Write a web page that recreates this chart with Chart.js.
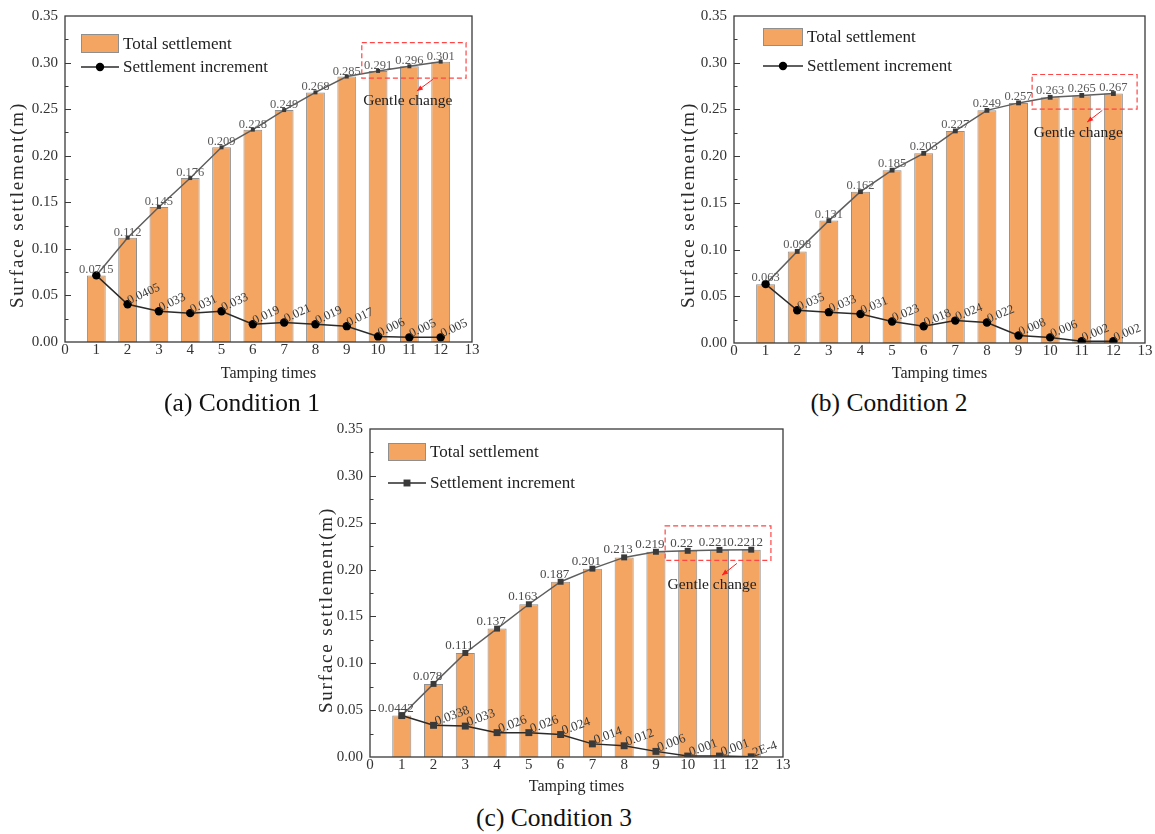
<!DOCTYPE html>
<html>
<head>
<meta charset="utf-8">
<script src="https://cdn.jsdelivr.net/npm/chart.js@4.4.1/dist/chart.umd.min.js"></script>
<style>
  html, body { margin: 0; padding: 0; background: #fff; }
  body { width: 1155px; height: 834px; position: relative; overflow: hidden;
         font-family: 'Liberation Serif', 'Times New Roman', serif; }
  canvas { position: absolute; }
  .cap { position: absolute; font-size: 25.5px; line-height: 26px; color: #111;
         white-space: nowrap; transform: translateX(-50%); }
</style>
</head>
<body>
<canvas id="chartA" width="480" height="385" style="left:0px;top:0px"></canvas>
<canvas id="chartB" width="485" height="385" style="left:670px;top:0px"></canvas>
<canvas id="chartC" width="490" height="385" style="left:305px;top:413px"></canvas>
<div class="cap" style="left:242px;top:390px">(a) Condition 1</div>
<div class="cap" style="left:889px;top:390px">(b) Condition 2</div>
<div class="cap" style="left:554px;top:805px">(c) Condition 3</div>

<script>
// Tamping passes (x axis)
const tampingTimes = [1, 2, 3, 4, 5, 6, 7, 8, 9, 10, 11, 12];

// Condition 1
const totalSettlement1 = [0.0715, 0.112, 0.145, 0.176, 0.209, 0.228, 0.249, 0.268, 0.285, 0.291, 0.296, 0.301];
const settlementIncrement1 = [0.0715, 0.0405, 0.033, 0.031, 0.033, 0.019, 0.021, 0.019, 0.017, 0.006, 0.005, 0.005];

// Condition 2
const totalSettlement2 = [0.063, 0.098, 0.131, 0.162, 0.185, 0.203, 0.227, 0.249, 0.257, 0.263, 0.265, 0.267];
const settlementIncrement2 = [0.063, 0.035, 0.033, 0.031, 0.023, 0.018, 0.024, 0.022, 0.008, 0.006, 0.002, 0.002];

// Condition 3
const totalSettlement3 = [0.0442, 0.078, 0.111, 0.137, 0.163, 0.187, 0.201, 0.213, 0.219, 0.22, 0.221, 0.2212];
const settlementIncrement3 = [0.0442, 0.0338, 0.033, 0.026, 0.026, 0.024, 0.014, 0.012, 0.006, 0.001, 0.001, 0.0002];

// Axis ranges
const xAxisRange = [0, 13];
const yAxisRange = [0, 0.35];
const yMajorStep = 0.05;

const SERIF = "'Liberation Serif', 'Times New Roman', serif";
const BAR_FILL = '#F4A562';
const BAR_EDGE = '#8f8f8f';

// Origin-style numeric label text ("2E-4" for very small values)
function fmt(v) {
  return v < 0.001 ? v.toExponential().toUpperCase() : String(v);
}

// Box frame with inward ticks on the left axis
const framePlugin = {
  id: 'frame',
  afterDatasetsDraw(chart) {
    const { ctx, chartArea: a, scales: { y } } = chart;
    ctx.save();
    ctx.strokeStyle = '#3a3a3a';
    ctx.lineWidth = 1.3;
    ctx.strokeRect(a.left, a.top, a.right - a.left, a.bottom - a.top);
    ctx.lineWidth = 1;
    const half = yMajorStep / 2;
    const n = Math.round((yAxisRange[1] - yAxisRange[0]) / half);
    for (let i = 1; i < n; i++) {
      const py = Math.round(y.getPixelForValue(yAxisRange[0] + i * half)) + 0.5;
      const len = i % 2 === 0 ? 6 : 3.5;
      ctx.beginPath();
      ctx.moveTo(a.left, py);
      ctx.lineTo(a.left + len, py);
      ctx.stroke();
    }
    ctx.restore();
  }
};

// Value labels: totals above their markers, increments tilted to the right
const valueLabelPlugin = {
  id: 'valueLabels',
  afterDatasetsDraw(chart, args, o) {
    const ctx = chart.ctx;
    const totMeta = chart.getDatasetMeta(1);
    const incMeta = chart.getDatasetMeta(2);
    const totData = chart.data.datasets[1].data;
    const incData = chart.data.datasets[2].data;
    ctx.save();
    ctx.font = `${o.size}px ${SERIF}`;
    ctx.textBaseline = 'alphabetic';
    ctx.fillStyle = o.totalColor;
    ctx.textAlign = 'center';
    totMeta.data.forEach((pt, i) => {
      ctx.fillText(fmt(totData[i].y), pt.x + o.totalDx, pt.y - o.totalDy);
    });
    ctx.fillStyle = o.incColor;
    ctx.textAlign = 'left';
    incMeta.data.forEach((pt, i) => {
      if (i === 0) return; // first increment equals the first total, labelled once
      ctx.save();
      ctx.translate(pt.x + o.incDx, pt.y + o.incDy);
      ctx.rotate(-o.angle * Math.PI / 180);
      ctx.fillText(fmt(incData[i].y), 0, 0);
      ctx.restore();
    });
    ctx.restore();
  }
};

// Legend drawn inside the plot area, top-left
const insideLegendPlugin = {
  id: 'insideLegend',
  afterDraw(chart, args, o) {
    const { ctx, chartArea: a } = chart;
    const bar = chart.data.datasets[0];
    const inc = chart.data.datasets[2];
    const x0 = a.left + o.dx, y0 = a.top + o.dy;
    ctx.save();
    // bar swatch
    ctx.fillStyle = bar.backgroundColor;
    ctx.strokeStyle = bar.borderColor;
    ctx.lineWidth = 1;
    ctx.fillRect(x0, y0, o.w, o.h);
    ctx.strokeRect(x0 + 0.5, y0 + 0.5, o.w - 1, o.h - 1);
    // line + marker swatch
    const ly = y0 + o.row2;
    ctx.strokeStyle = inc.borderColor;
    ctx.lineWidth = 1.5;
    ctx.beginPath();
    ctx.moveTo(x0, ly);
    ctx.lineTo(x0 + o.w, ly);
    ctx.stroke();
    ctx.fillStyle = inc.pointBackgroundColor;
    const cx = x0 + o.w / 2;
    if (inc.pointStyle === 'rect') {
      const s = inc.pointRadius * Math.SQRT1_2;
      ctx.fillRect(cx - s, ly - s, 2 * s, 2 * s);
    } else {
      ctx.beginPath();
      ctx.arc(cx, ly, inc.pointRadius, 0, Math.PI * 2);
      ctx.fill();
    }
    // texts
    ctx.fillStyle = '#1e1e1e';
    ctx.font = `17px ${SERIF}`;
    ctx.textAlign = 'left';
    ctx.textBaseline = 'middle';
    ctx.fillText(bar.label, x0 + o.w + 4, y0 + o.h / 2 + 1);
    ctx.fillText(inc.label, x0 + o.w + 4, ly + 1);
    ctx.restore();
  }
};

// "Gentle change" callout: dashed box, arrow and note (placed in data space)
const calloutPlugin = {
  id: 'callout',
  afterDraw(chart, args, o) {
    const { ctx, scales: { x, y } } = chart;
    const X = v => x.getPixelForValue(v), Y = v => y.getPixelForValue(v);
    ctx.save();
    ctx.strokeStyle = '#ff4545';
    ctx.lineWidth = 1.2;
    ctx.setLineDash([5, 3]);
    const bx = X(o.box[0]), by = Y(o.box[3]);
    ctx.strokeRect(bx, by, X(o.box[2]) - bx, Y(o.box[1]) - by);
    ctx.setLineDash([]);
    const x1 = X(o.arrow[0]), y1 = Y(o.arrow[1]), x2 = X(o.arrow[2]), y2 = Y(o.arrow[3]);
    ctx.strokeStyle = '#ff2020';
    ctx.fillStyle = '#ff2020';
    ctx.lineWidth = 1;
    ctx.beginPath();
    ctx.moveTo(x1, y1);
    ctx.lineTo(x2, y2);
    ctx.stroke();
    const ang = Math.atan2(y2 - y1, x2 - x1);
    ctx.beginPath();
    ctx.moveTo(x2, y2);
    ctx.lineTo(x2 - 6 * Math.cos(ang) + 2.5 * Math.sin(ang), y2 - 6 * Math.sin(ang) - 2.5 * Math.cos(ang));
    ctx.lineTo(x2 - 6 * Math.cos(ang) - 2.5 * Math.sin(ang), y2 - 6 * Math.sin(ang) + 2.5 * Math.cos(ang));
    ctx.closePath();
    ctx.fill();
    ctx.fillStyle = '#222';
    ctx.font = `15.5px ${SERIF}`;
    ctx.textAlign = 'center';
    ctx.textBaseline = 'middle';
    ctx.fillText(o.text, X(o.textAt[0]), Y(o.textAt[1]));
    ctx.restore();
  }
};

// Rotated y-axis title
const yTitlePlugin = {
  id: 'yTitle',
  afterDraw(chart, args, o) {
    const ctx = chart.ctx;
    ctx.save();
    ctx.translate(o.x, o.y);
    ctx.rotate(-Math.PI / 2);
    ctx.font = `19px ${SERIF}`;
    ctx.fillStyle = '#2a2a2a';
    ctx.textAlign = 'center';
    ctx.textBaseline = 'middle';
    if ('letterSpacing' in ctx) ctx.letterSpacing = o.spacing + 'px';
    ctx.fillText(o.text, 0, 0);
    ctx.restore();
  }
};

function makeChart(id, cfg) {
  const pts = arr => tampingTimes.map((t, i) => ({ x: t, y: arr[i] }));
  return new Chart(document.getElementById(id), {
    type: 'bar',
    data: {
      datasets: [
        {
          type: 'bar', label: 'Total settlement', data: pts(cfg.total),
          backgroundColor: BAR_FILL, borderColor: BAR_EDGE, borderWidth: 1,
          barPercentage: 0.6, categoryPercentage: 1.0, order: 3
        },
        {
          type: 'line', label: 'Total settlement line', data: pts(cfg.total),
          borderColor: '#5e5e5e', borderWidth: 1.5, tension: 0,
          pointStyle: 'rect', pointRadius: cfg.totalMarker, pointBorderWidth: 0,
          pointBackgroundColor: '#3a3a3a', order: 2
        },
        {
          type: 'line', label: 'Settlement increment', data: pts(cfg.inc),
          borderColor: '#2a2a2a', borderWidth: 1.5, tension: 0,
          pointStyle: cfg.incStyle, pointRadius: cfg.incMarker, pointBorderWidth: 0,
          pointBackgroundColor: cfg.incStyle === 'rect' ? '#3a3a3a' : '#000', order: 1
        }
      ]
    },
    options: {
      responsive: false,
      animation: false,
      devicePixelRatio: 1,
      layout: { padding: { top: cfg.padTop, right: cfg.padRight, left: 0, bottom: 0 } },
      plugins: {
        legend: { display: false },
        tooltip: { enabled: false },
        valueLabels: cfg.labels,
        insideLegend: cfg.legend,
        callout: cfg.callout,
        yTitle: cfg.yTitle
      },
      scales: {
        x: {
          type: 'linear', min: xAxisRange[0], max: xAxisRange[1], offset: false,
          grid: { display: false, offset: false, drawTicks: false },
          border: { display: false },
          ticks: { stepSize: 1, padding: -1, color: '#333', font: { size: 15, family: SERIF },
                   maxRotation: 0, autoSkip: false },
          title: { display: true, text: 'Tamping times', color: '#262626',
                   font: { size: 16, family: SERIF }, padding: { top: 0, bottom: 2 } },
          afterFit: s => { s.height = cfg.xHeight; }
        },
        y: {
          type: 'linear', min: yAxisRange[0], max: yAxisRange[1],
          grid: { display: false, drawTicks: false },
          border: { display: false },
          ticks: { stepSize: yMajorStep, padding: 7, color: '#333',
                   font: { size: 15, family: SERIF }, callback: v => v.toFixed(2) },
          afterFit: s => { s.width = cfg.yWidth; }
        }
      }
    },
    plugins: [framePlugin, valueLabelPlugin, insideLegendPlugin, calloutPlugin, yTitlePlugin]
  });
}

makeChart('chartA', {
  total: totalSettlement1, inc: settlementIncrement1,
  totalMarker: 2.8, incStyle: 'circle', incMarker: 4.2,
  padTop: 12, padRight: 8, yWidth: 65, xHeight: 43,
  labels: { size: 12.5, totalColor: '#5a5a5a', incColor: '#3a3a3a', totalDx: 0, totalDy: 2, incDx: 2, incDy: 0, angle: 25 },
  legend: { dx: 16, dy: 18, w: 38, h: 19, row2: 33 },
  callout: { box: [9.48, 0.2832, 12.81, 0.3214], arrow: [11.75, 0.282, 11.24, 0.2694],
             textAt: [10.95, 0.2585], text: 'Gentle change' },
  yTitle: { x: 18, y: 205, spacing: 1.8, text: 'Surface settlement(m)' }
});

makeChart('chartB', {
  total: totalSettlement2, inc: settlementIncrement2,
  totalMarker: 3.4, incStyle: 'circle', incMarker: 4.2,
  padTop: 13, padRight: 10, yWidth: 64, xHeight: 42,
  labels: { size: 12.5, totalColor: '#5a5a5a', incColor: '#3a3a3a', totalDx: 0, totalDy: 3, incDx: 2, incDy: 0, angle: 22 },
  legend: { dx: 29, dy: 12, w: 40, h: 18, row2: 38 },
  callout: { box: [9.43, 0.2503, 12.75, 0.2874], arrow: [11.65, 0.249, 11.17, 0.2365],
             textAt: [10.89, 0.2248], text: 'Gentle change' },
  yTitle: { x: 19, y: 205, spacing: 1.8, text: 'Surface settlement(m)' }
});

makeChart('chartC', {
  total: totalSettlement3, inc: settlementIncrement3,
  totalMarker: 4.2, incStyle: 'rect', incMarker: 4.9,
  padTop: 12, padRight: 12, yWidth: 65, xHeight: 41,
  labels: { size: 13, totalColor: '#4a4a4a', incColor: '#3a3a3a', totalDx: -6, totalDy: 4, incDx: 3, incDy: 0, angle: 20 },
  legend: { dx: 18, dy: 14, w: 38, h: 18, row2: 40 },
  callout: { box: [9.29, 0.2098, 12.62, 0.2467], arrow: [11.55, 0.2066, 11.08, 0.194],
             textAt: [10.77, 0.1834], text: 'Gentle change' },
  yTitle: { x: 22, y: 197, spacing: 1.8, text: 'Surface settlement(m)' }
});
</script>
</body>
</html>
